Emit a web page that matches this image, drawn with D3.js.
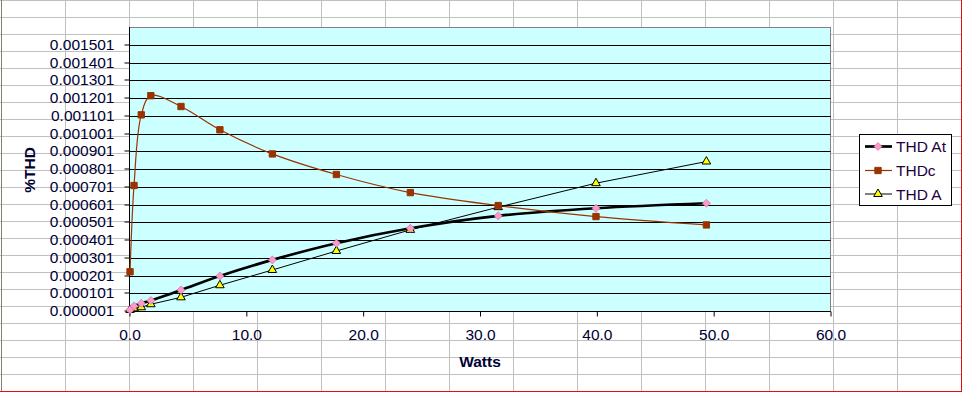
<!DOCTYPE html>
<html>
<head>
<meta charset="utf-8">
<script src="https://cdn.jsdelivr.net/npm/d3@7"></script>
<style>
  body { margin: 0; background: #fff; }
  svg { display: block; font-family: "Liberation Sans", Arial, sans-serif; }
</style>
</head>
<body>
<svg id="chart" width="962" height="393"></svg>
<script>
// ---- data ----
const watts = [0.09, 0.43, 1.05, 1.87, 4.45, 7.78, 12.27, 17.75, 24.08, 31.6, 39.97, 49.42];
const thdAt = [0.000008, 0.000029, 0.000044, 0.000060, 0.000119, 0.000198, 0.000289, 0.000383, 0.000467, 0.000537, 0.000580, 0.000608];
const thdC  = [0.000222, 0.000708, 0.001106, 0.001214, 0.001153, 0.001022, 0.000886, 0.000770, 0.000668, 0.000595, 0.000533, 0.000486];
const thdA  = [0.000007, 0.000016, 0.000022, 0.000039, 0.000078, 0.000146, 0.000232, 0.000339, 0.000458, 0.000586, 0.000721, 0.000843];
const seriesNames = ["THD At", "THDc", "THD A"];
const xTicks = [0, 10, 20, 30, 40, 50, 60];
const yTicks = [0.000001, 0.000101, 0.000201, 0.000301, 0.000401, 0.000501, 0.000601, 0.000701,
                0.000801, 0.000901, 0.001001, 0.001101, 0.001201, 0.001301, 0.001401, 0.001501];
const yMin = 0.000001, yMax = 0.001601;
const xTitle = "Watts", yTitle = "%THD";

// ---- layout ----
const W = 962, H = 393;
const L = 129, R = 830, T = 27, B = 311;
const FS = "15.5px";
const txt = "#000033";

const svg = d3.select("#chart");

// spreadsheet background grid
const bg = svg.append("g");
const cols = d3.range(65, 961, 64);
const rows = d3.range(0, 391, 17);
bg.selectAll("line.col").data(cols).join("line")
  .attr("x1", d => d + 0.5).attr("x2", d => d + 0.5).attr("y1", 0).attr("y2", 391)
  .attr("stroke", "#c0c0c0");
bg.selectAll("line.row").data(rows).join("line")
  .attr("x1", 0).attr("x2", 961).attr("y1", d => d + 0.5).attr("y2", d => d + 0.5)
  .attr("stroke", "#c0c0c0");
bg.append("line").attr("x1", 1.5).attr("x2", 1.5).attr("y1", 0).attr("y2", 391).attr("stroke", "#808070");
bg.append("line").attr("x1", 961.5).attr("x2", 961.5).attr("y1", 0).attr("y2", 392).attr("stroke", "#e01010");
bg.append("line").attr("x1", 0).attr("x2", 962).attr("y1", 391.5).attr("y2", 391.5).attr("stroke", "#e01010");

// scales
const x = d3.scaleLinear().domain([0, 60]).range([L, R]);
const y = d3.scaleLinear().domain([yMin, yMax]).range([B, T]);
const px = v => Math.round(v) + 0.5;

// plot area
svg.append("rect").attr("x", L + 0.5).attr("y", T + 0.5).attr("width", R - L).attr("height", B - T)
  .attr("fill", "#ccffff").attr("stroke", "#808080");

// horizontal gridlines
svg.append("g").selectAll("line").data(yTicks.slice(1)).join("line")
  .attr("x1", L).attr("x2", R + 0.5)
  .attr("y1", d => px(y(d))).attr("y2", d => px(y(d)))
  .attr("stroke", "#000").attr("stroke-width", 1);

// axes
const xAxis = svg.append("g").attr("transform", `translate(0.5,${px(B)})`)
  .call(d3.axisBottom(x).tickValues(xTicks).tickFormat(d3.format(".1f")).tickSize(5).tickSizeOuter(0).tickPadding(12.5));
const yAxis = svg.append("g").attr("transform", `translate(${L + 0.5},0)`)
  .call(d3.axisLeft(y).tickValues(yTicks).tickFormat(d3.format(".6f")).tickSize(5).tickSizeOuter(0).tickPadding(10));
[xAxis, yAxis].forEach(a => {
  a.selectAll("path.domain").attr("stroke", "#000");
  a.selectAll(".tick line").attr("stroke", "#000");
  a.selectAll("text").attr("font-size", FS).attr("fill", txt).attr("font-family", null);
});
yAxis.selectAll(".tick").attr("transform", d => `translate(0,${px(y(d)) - 0.5})`);
yAxis.select("path.domain").attr("d", `M0,${T}V${B + 0.5}`);
xAxis.select("path.domain").attr("d", `M${L - 0.5},0H${R}`);

// titles
svg.append("text").attr("x", (L + R) / 2 + 0.5).attr("y", 362).attr("dy", "0.35em")
  .attr("text-anchor", "middle").attr("font-weight", "bold").attr("font-size", FS).attr("fill", txt).text(xTitle);
svg.append("text").attr("transform", `translate(30,${(T + B) / 2 + 1}) rotate(-90)`).attr("dy", "0.35em")
  .attr("text-anchor", "middle").attr("font-weight", "bold").attr("font-size", FS).attr("fill", txt).text(yTitle);

// series
const series = [
  { name: seriesNames[0], vals: thdAt, stroke: "#000", width: 2.7, curve: d3.curveCatmullRom.alpha(0.5), marker: "diamond", fill: "#ff99cc", mstroke: "#cc6699" },
  { name: seriesNames[1], vals: thdC, stroke: "#993300", width: 1.2, curve: d3.curveCatmullRom.alpha(0.5), marker: "square", fill: "#993300", mstroke: "#993300" },
  { name: seriesNames[2], vals: thdA, stroke: "#000", width: 1, curve: d3.curveLinear, marker: "triangle", fill: "#ffff00", mstroke: "#000" }
];
const symbols = {
  diamond: d3.symbol().type(d3.symbolDiamond2).size(42),
  square: d3.symbol().type(d3.symbolSquare).size(40),
  triangle: d3.symbol().type(d3.symbolTriangle).size(32)
};

const gLines = svg.append("g");
const gMarks = svg.append("g");
series.forEach(s => {
  const pts = watts.map((w, i) => [w, s.vals[i]]);
  gLines.append("path").datum(pts)
    .attr("d", d3.line().x(d => x(d[0])).y(d => y(d[1])).curve(s.curve))
    .attr("fill", "none").attr("stroke", s.stroke).attr("stroke-width", s.width);
});
series.slice().reverse().forEach(s => {
  const pts = watts.map((w, i) => [w, s.vals[i]]);
  gMarks.selectAll(null).data(pts).join("path")
    .attr("transform", d => `translate(${x(d[0])},${y(d[1])})`)
    .attr("d", symbols[s.marker]())
    .attr("fill", s.fill).attr("stroke", s.mstroke).attr("stroke-width", s.marker === "diamond" ? 0.6 : 1);
});

// legend
const lg = svg.append("g");
lg.append("rect").attr("x", 859.5).attr("y", 134.5).attr("width", 92).attr("height", 71)
  .attr("fill", "#fff").attr("stroke", "#000");
const ly = [146.5, 170.5, 194];
series.forEach((s, i) => {
  lg.append("line").attr("x1", 865).attr("x2", 892).attr("y1", ly[i]).attr("y2", ly[i])
    .attr("stroke", s.stroke).attr("stroke-width", s.width);
  lg.append("path").attr("transform", `translate(878,${ly[i]})`).attr("d", symbols[s.marker]())
    .attr("fill", s.fill).attr("stroke", s.mstroke).attr("stroke-width", s.marker === "diamond" ? 0.6 : 1);
  lg.append("text").attr("x", 896).attr("y", ly[i]).attr("dy", "0.36em")
    .attr("font-size", FS).attr("fill", "#200040").text(s.name);
});
</script>
</body>
</html>
